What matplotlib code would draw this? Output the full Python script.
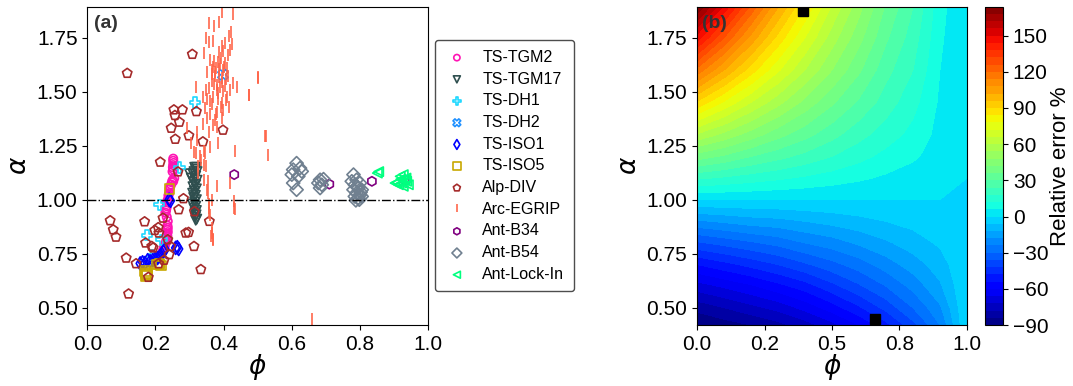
import matplotlib
matplotlib.use('Agg')
import matplotlib.pyplot as plt
import numpy as np

plt.rcParams['font.family'] = ['Liberation Sans', 'DejaVu Sans']
plt.rcParams['mathtext.fontset'] = 'dejavusans'

# ---- panel (a): samples in (phi, alpha) space ----
tgm2_phi = [0.252, 0.252, 0.253, 0.252, 0.251, 0.252, 0.250, 0.255, 0.250, 0.248, 0.246, 0.252,
            0.243, 0.241, 0.240, 0.238, 0.236, 0.234, 0.233, 0.232, 0.231, 0.229, 0.233, 0.236,
            0.235, 0.236, 0.235, 0.236, 0.234, 0.235, 0.233, 0.232, 0.230, 0.228, 0.225, 0.224,
            0.222, 0.226]
tgm2_alpha = [1.19, 1.18, 1.17, 1.16, 1.15, 1.14, 1.13, 1.10, 1.09, 1.08, 1.07, 1.085,
              1.06, 1.05, 1.03, 1.02, 1.00, 0.99, 0.97, 0.96, 0.95, 0.94, 0.92, 0.90,
              0.88, 0.87, 0.86, 0.85, 0.84, 0.83, 0.82, 0.81, 0.80, 0.79, 0.78, 0.77,
              0.765, 0.775]

tgm17_phi = [0.315, 0.320, 0.318, 0.313, 0.322, 0.300, 0.310, 0.318, 0.305, 0.315, 0.322, 0.312,
             0.318, 0.310, 0.320, 0.314, 0.309, 0.317, 0.312, 0.320, 0.315, 0.308, 0.318, 0.313,
             0.320, 0.316, 0.319, 0.317, 0.321, 0.318]
tgm17_alpha = [1.15, 1.15, 1.14, 1.13, 1.13, 1.12, 1.12, 1.11, 1.10, 1.10, 1.09, 1.08,
               1.07, 1.06, 1.05, 1.04, 1.03, 1.02, 1.01, 1.00, 0.99, 0.98, 0.97, 0.96,
               0.95, 0.94, 0.93, 0.92, 0.91, 0.905]

dh1_phi = [0.316, 0.270, 0.211, 0.175, 0.218, 0.192]
dh1_alpha = [1.450, 1.149, 0.977, 0.835, 0.815, 0.741]

dh2_phi = [0.398]
dh2_alpha = [1.578]

iso1_phi = [0.155, 0.162, 0.169, 0.177, 0.184, 0.192, 0.199, 0.206, 0.213, 0.218, 0.223, 0.228,
            0.259, 0.264, 0.268, 0.240, 0.244]
iso1_alpha = [0.705, 0.710, 0.707, 0.720, 0.715, 0.720, 0.725, 0.730, 0.738, 0.750, 0.760, 0.770,
              0.777, 0.780, 0.772, 1.000, 0.995]

iso5_phi = [0.241, 0.170, 0.172, 0.174, 0.171, 0.176, 0.205, 0.210, 0.215, 0.212]
iso5_alpha = [1.050, 0.670, 0.660, 0.650, 0.645, 0.655, 0.700, 0.700, 0.695, 0.705]

div_phi = [0.308, 0.117, 0.254, 0.279, 0.257, 0.320, 0.270, 0.246, 0.298, 0.258, 0.339, 0.398,
           0.214, 0.266, 0.282, 0.268, 0.314, 0.067, 0.076, 0.084, 0.168, 0.222, 0.358, 0.198,
           0.208, 0.210, 0.171, 0.189, 0.193, 0.244, 0.289, 0.297, 0.313, 0.114, 0.143, 0.209,
           0.225, 0.179, 0.333, 0.121, 0.240, 0.236]
div_alpha = [1.673, 1.585, 1.416, 1.416, 1.390, 1.408, 1.359, 1.331, 1.296, 1.280, 1.268, 1.322,
             1.174, 1.129, 1.005, 0.954, 0.945, 0.903, 0.861, 0.827, 0.898, 0.915, 0.900, 0.858,
             0.871, 0.846, 0.800, 0.784, 0.777, 0.784, 0.846, 0.849, 0.784, 0.730, 0.704, 0.704,
             0.720, 0.641, 0.677, 0.564, 0.746, 0.815]

egrip_phi = [0.394, 0.426, 0.357, 0.385, 0.371, 0.422, 0.417, 0.348, 0.358, 0.368, 0.405, 0.424,
             0.342, 0.386, 0.399, 0.419, 0.414, 0.360, 0.372, 0.382, 0.389, 0.404, 0.368, 0.378,
             0.387, 0.399, 0.411, 0.350, 0.365, 0.375, 0.385, 0.394, 0.414, 0.438, 0.502, 0.348,
             0.365, 0.372, 0.380, 0.389, 0.404, 0.427, 0.319, 0.358, 0.380, 0.399, 0.419, 0.474,
             0.340, 0.352, 0.370, 0.384, 0.409, 0.365, 0.394, 0.417, 0.345, 0.360, 0.380, 0.399,
             0.350, 0.375, 0.394, 0.370, 0.340, 0.292, 0.321, 0.358, 0.380, 0.521,
             0.323, 0.314, 0.342, 0.326, 0.343, 0.355, 0.357, 0.356, 0.365, 0.370, 0.380, 0.431,
             0.433, 0.433, 0.523, 0.531, 0.473, 0.500, 0.659, 0.331, 0.348,
             0.304, 0.319, 0.333, 0.345, 0.360, 0.384, 0.326, 0.342, 0.355, 0.350, 0.365, 0.357,
             0.360, 0.365, 0.362, 0.370, 0.419, 0.430,
             0.392, 0.402, 0.376, 0.396, 0.408, 0.383, 0.361, 0.391, 0.407, 0.377, 0.366, 0.396]
egrip_alpha = [1.870, 1.859, 1.819, 1.824, 1.806, 1.778, 1.758, 1.747, 1.732, 1.736, 1.727, 1.721,
               1.678, 1.685, 1.690, 1.693, 1.670, 1.647, 1.642, 1.635, 1.628, 1.631, 1.616, 1.608,
               1.604, 1.598, 1.608, 1.593, 1.582, 1.573, 1.570, 1.562, 1.573, 1.521, 1.567, 1.508,
               1.551, 1.536, 1.530, 1.521, 1.527, 1.539, 1.521, 1.516, 1.508, 1.501, 1.508, 1.485,
               1.474, 1.465, 1.477, 1.468, 1.474, 1.444, 1.447, 1.428, 1.422, 1.397, 1.407, 1.416,
               1.376, 1.367, 1.376, 1.345, 1.351, 1.330, 1.314, 1.314, 1.336, 1.293,
               1.277, 1.219, 1.223, 1.154, 1.092, 1.031, 0.982, 0.938, 0.846, 0.818, 1.062, 0.992,
               0.957, 1.223, 1.293, 1.208, 1.485, 1.562, 0.450, 1.200, 1.154,
               1.262, 1.216, 1.185, 1.216, 1.246, 1.262, 1.123, 1.162, 1.085, 1.046, 1.000, 0.962,
               0.931, 0.869, 0.830, 0.815, 1.077, 0.962,
               1.655, 1.612, 1.590, 1.545, 1.560, 1.495, 1.455, 1.430, 1.460, 1.395, 1.600, 1.710]

b34_phi = [0.431, 0.710, 0.835, 0.932]
b34_alpha = [1.116, 1.072, 1.085, 1.092]

b54_phi = [0.614, 0.624, 0.604, 0.629, 0.600, 0.619, 0.604, 0.614,
           0.683, 0.693, 0.678, 0.688, 0.683,
           0.781, 0.790, 0.776, 0.800, 0.785, 0.795, 0.781, 0.805, 0.790, 0.800, 0.785, 0.795,
           0.805, 0.788, 0.798, 0.792, 0.802]
b54_alpha = [1.169, 1.146, 1.139, 1.131, 1.116, 1.108, 1.077, 1.046,
             1.092, 1.095, 1.077, 1.069, 1.054,
             1.116, 1.092, 1.085, 1.077, 1.069, 1.054, 1.046, 1.046, 1.031, 1.023, 1.015, 1.008,
             1.015, 0.997, 1.000, 1.060, 1.035]

lock_phi = [0.851, 0.855, 0.918, 0.927, 0.932, 0.908, 0.922, 0.937, 0.913, 0.927, 0.942, 0.903,
            0.935, 0.920]
lock_alpha = [1.123, 1.130, 1.108, 1.116, 1.092, 1.080, 1.077, 1.085, 1.069, 1.062, 1.069, 1.077,
              1.100, 1.095]

# ---- panel (b): relative error read on a (alpha x phi) grid ----
phi_grid = [0.0, 0.1, 0.2, 0.3, 0.4, 0.5, 0.6, 0.7, 0.8, 0.9, 1.0]
alpha_grid = [0.42, 0.5, 0.6, 0.7, 0.8, 0.9, 1.0, 1.1, 1.2, 1.3, 1.45, 1.6, 1.75, 1.89]
rel_err = [
    [-90, -87, -84, -80, -75, -68, -60, -50, -38, -24, 0],
    [-82, -78, -74, -70, -64, -57, -49, -40, -30, -19, 0],
    [-69, -65, -61, -56, -51, -44, -37, -30, -22, -13, 0],
    [-54, -50, -46, -42, -37, -32, -27, -21, -15, -9, 0],
    [-37, -34, -31, -28, -24, -21, -17, -13, -9, -5, 0],
    [-19, -17, -15, -14, -12, -10, -8, -6, -4, -2, 0],
    [0, 0, 0, 0, 0, 0, 0, 0, 0, 0, 0],
    [19, 17, 15, 13, 11, 9, 7, 5, 3, 1, 0],
    [39, 35, 30, 26, 22, 18, 14, 10, 7, 3, 0],
    [59, 52, 45, 38, 32, 26, 20, 15, 10, 4, 0],
    [89, 77, 66, 56, 46, 37, 29, 21, 14, 5, 0],
    [118, 102, 87, 73, 60, 48, 37, 26, 18, 6, 0],
    [147, 126, 106, 88, 72, 57, 44, 31, 21, 7, 0],
    [174, 148, 124, 102, 83, 65, 50, 35, 24, 8, 0],
]
extreme_phi = [0.393, 0.659]
extreme_alpha = [1.873, 0.450]

cbar_ticks = [-90, -60, -30, 0, 30, 60, 90, 120, 150]

fig = plt.figure(figsize=(10.73, 3.86), dpi=100)
ax1 = fig.add_axes([0.0814, 0.158, 0.3176, 0.8246])
ax2 = fig.add_axes([0.6496, 0.158, 0.2516, 0.8246])
cax = fig.add_axes([0.918, 0.158, 0.0168, 0.8246])

series = [
    (tgm2_phi, tgm2_alpha, 'o', '#ff14b4', 'TS-TGM2', 36),
    (tgm17_phi, tgm17_alpha, 'v', 'darkslategray', 'TS-TGM17', 45),
    (dh1_phi, dh1_alpha, 'P', '#1ed8ff', 'TS-DH1', 55),
    (dh2_phi, dh2_alpha, 'X', 'dodgerblue', 'TS-DH2', 55),
    (iso1_phi, iso1_alpha, 'd', 'blue', 'TS-ISO1', 45),
    (iso5_phi, iso5_alpha, 's', '#c8a800', 'TS-ISO5', 50),
    (div_phi, div_alpha, 'p', 'brown', 'Alp-DIV', 50),
]
for px, py, m, c, lab, s in series:
    ax1.scatter(px, py, s=s, marker=m, facecolors='none', edgecolors=c, linewidths=1.2, label=lab)
ax1.plot(egrip_phi, egrip_alpha, ls='none', marker='|', ms=8, mew=1.3, color='tomato',
         alpha=0.9, label='Arc-EGRIP')
for px, py, m, c, lab, s in [
    (b34_phi, b34_alpha, 'h', 'purple', 'Ant-B34', 45),
    (b54_phi, b54_alpha, 'D', 'slategray', 'Ant-B54', 45),
    (lock_phi, lock_alpha, '<', 'springgreen', 'Ant-Lock-In', 45),
]:
    ax1.scatter(px, py, s=s, marker=m, facecolors='none', edgecolors=c, linewidths=1.2, label=lab)

ax1.axhline(1.0, color='k', ls='-.', lw=1)
ax1.set_xlim(0, 1)
ax1.set_ylim(0.42, 1.893)
ax1.set_xticks([0, 0.2, 0.4, 0.6, 0.8, 1.0])
ax1.set_yticks([0.5, 0.75, 1.0, 1.25, 1.5, 1.75])
ax1.xaxis.set_major_formatter('{x:.1f}')
ax1.yaxis.set_major_formatter('{x:.2f}')
ax1.set_xlabel(r'$\phi$', fontsize=19, labelpad=-1)
ax1.set_ylabel(r'$\alpha$', fontsize=19, labelpad=4)
ax1.tick_params(labelsize=15)
ax1.text(0.02, 0.975, '(a)', transform=ax1.transAxes, va='top', ha='left',
         fontsize=14, fontweight='bold', color='#333333')
leg = ax1.legend(loc='center left', bbox_to_anchor=(1.0, 0.5), fontsize=11.5,
                 labelspacing=0.42, handlelength=1.6, handletextpad=0.8, borderpad=0.6,
                 borderaxespad=0.4, framealpha=1, edgecolor='0.3', scatterpoints=1,
                 markerscale=0.75)

# panel (b)
levels = np.linspace(np.min(rel_err), np.max(rel_err), 45)
cf = ax2.contourf(phi_grid, alpha_grid, rel_err, levels=levels, cmap='jet')
ax2.plot(extreme_phi, extreme_alpha, ls='none', marker='s', ms=7, color='k')
ax2.set_xlim(0, 1)
ax2.set_ylim(0.42, 1.893)
ax2.set_xticks([0, 0.25, 0.5, 0.75, 1.0])
ax2.set_yticks([0.5, 0.75, 1.0, 1.25, 1.5, 1.75])
ax2.xaxis.set_major_formatter('{x:.1f}')
ax2.yaxis.set_major_formatter('{x:.2f}')
ax2.set_xlabel(r'$\phi$', fontsize=19, labelpad=-1)
ax2.set_ylabel(r'$\alpha$', fontsize=19, labelpad=4)
ax2.tick_params(labelsize=15)
ax2.text(0.02, 0.975, '(b)', transform=ax2.transAxes, va='top', ha='left',
         fontsize=14, fontweight='bold', color='#333333')

cb = fig.colorbar(cf, cax=cax, ticks=cbar_ticks)
cb.ax.tick_params(labelsize=15)
cb.set_label('Relative error %', fontsize=16, labelpad=1)

fig.savefig('out.png', dpi=100)
